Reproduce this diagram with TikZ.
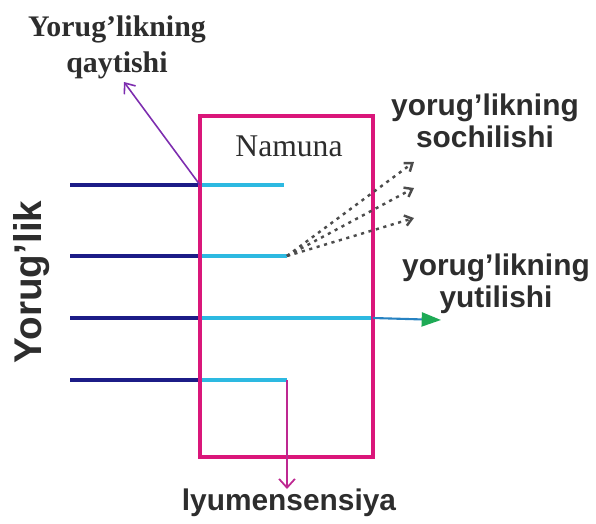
\documentclass[tikz,border=0pt]{standalone}
\usepackage{fontspec}
\setmainfont{Liberation Serif}
\setsansfont{Liberation Sans}
\usetikzlibrary{arrows.meta}

\definecolor{boxpink}{RGB}{218,22,122}
\definecolor{navyray}{RGB}{28,28,135}
\definecolor{cyanray}{RGB}{45,185,225}
\definecolor{reflviolet}{RGB}{125,45,175}
\definecolor{lumpink}{RGB}{190,40,145}
\definecolor{absgreen}{RGB}{30,170,85}
\definecolor{textgray}{RGB}{45,45,45}

\tikzset{
  incoming/.style={navyray, line width=2.8pt},
  inside/.style={cyanray, line width=2pt},
  scattered/.style={textgray!85, line width=1.4pt, dash pattern=on 1.8pt off 2.6pt,
    -{Straight Barb[length=4pt,width=6pt]}},
  sanslabel/.style={font=\sffamily\bfseries\fontsize{17}{18}\selectfont, text=textgray, align=center},
}

\begin{document}
\begin{tikzpicture}[x=0.02cm,y=-0.02cm]
\useasboundingbox (0,0) rectangle (596,524);

% box corners
\def\xl{200} \def\xr{373} \def\yt{116} \def\yb{457}

% four rays coming in from the left
\foreach \i/\y in {1/185,2/256,3/318,4/380}{
  \coordinate (s\i) at (70,\y);
  \coordinate (in\i) at (\xl,\y);
  \draw[incoming] (s\i) -- (in\i);
}

% what happens inside
\coordinate (e1) at (284,185);
\coordinate (e2) at (287,256);
\coordinate (e3) at (\xr,318);
\coordinate (e4) at (287,380);
\foreach \i in {1,...,4}
  \draw[inside] (in\i) -- (e\i);

% the sample
\draw[boxpink, line width=2.8pt] (\xl,\yt) rectangle (\xr,\yb);
\node[font=\fontsize{18}{20}\selectfont, text=textgray] (sample) at (289,146) {Namuna};

% reflection (base = last line)
\node[font=\bfseries\fontsize{17}{20}\selectfont, text=textgray, align=center, anchor=base]
  (refl) at (117,72) {Yorug'likning\\qaytishi};
\coordinate (r) at (124,82);
\draw[reflviolet, line width=0.9pt, -{Straight Barb[length=5pt,width=8pt]}] (in1) -- (r);

% scattering
\node[sanslabel, anchor=base] (scat) at (485,147) {yorug’likning\\sochilishi};
\coordinate (t1) at (414,162);
\coordinate (t2) at (414,188);
\coordinate (t3) at (414,218);
\foreach \t in {t1,t2,t3}
  \draw[scattered] (e2) -- (\t);

% absorption
\node[sanslabel, anchor=base] (abs) at (496,307) {yorug’likning\\yutilishi};
\coordinate (a) at (441,320);
\draw[cyanray!65!navyray, line width=1.2pt,
  -{Triangle[length=11pt,width=8pt,color=absgreen]}] (e3) -- (a);

% luminescence
\node[sanslabel, anchor=base] (lum) at (289,510) {lyumensensiya};
\coordinate (l) at (287,489);
\draw[lumpink, line width=1pt, -{Straight Barb[length=5pt,width=9pt]}] (e4) -- (l);

% light
\node[font=\sffamily\bfseries\fontsize{22}{24}\selectfont, text=textgray, rotate=90, anchor=base]
  (light) at (41,282) {Yorug’lik};
\end{tikzpicture}
\end{document}
